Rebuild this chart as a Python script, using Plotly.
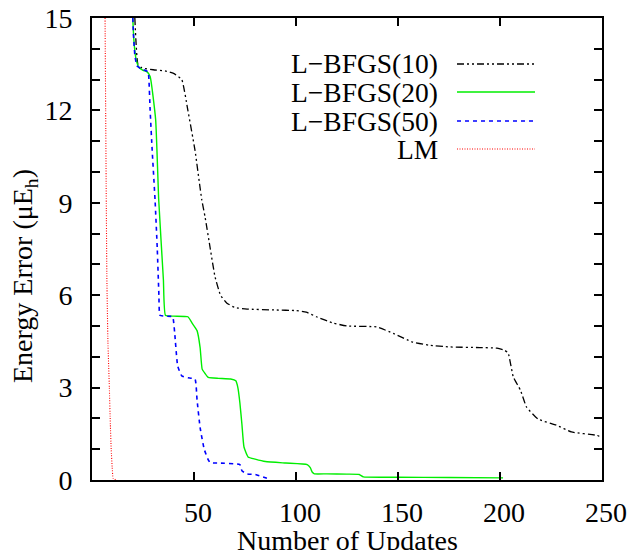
import plotly.graph_objects as go

# ---------------- data ----------------
lm_x = [6.4, 6.7, 7.0, 7.3, 7.8, 8.5, 9.0, 9.4, 9.9, 10.4, 12]
lm_y = [15, 12, 9, 6.5, 4.5, 3.0, 1.8, 1.0, 0.4, 0.05, 0]

b50_x = [20, 20.3, 21, 22, 24, 27.5, 27.9, 28.5, 29.5, 30.9, 32, 32.8, 33.3, 36, 39.5,
         40.5, 42, 44, 47, 50.5, 51.5, 53, 55, 57, 58, 62, 72.5, 73.5, 76, 80, 86]
b50_y = [15, 14.5, 13.8, 13.45, 13.35, 13.25, 13.0, 12.0, 10.7, 9.1, 7.5, 6.0, 5.35, 5.32, 5.3,
         4.8, 3.7, 3.38, 3.32, 3.28, 2.6, 1.7, 1.0, 0.65, 0.56, 0.55, 0.5, 0.3, 0.2, 0.18, 0.05]

b20_x = [20, 20.5, 21.5, 23, 25, 27, 28.5, 31.2, 32.7, 35, 36, 40, 47, 49, 51.5, 53, 54,
         55.5, 57, 62, 68, 70.5, 71.5, 72.5, 73.5, 74.5, 76.5, 80, 85, 95, 105.5, 107,
         108, 109, 115, 125, 131, 133, 150, 175, 201.5]
b20_y = [15, 14.3, 13.7, 13.4, 13.3, 13.25, 13.1, 11.7, 9.1, 6.5, 5.35, 5.32, 5.3, 5.1, 4.85,
         4.3, 3.6, 3.45, 3.33, 3.3, 3.28, 3.22, 3.0, 2.5, 1.8, 1.07, 0.75, 0.68, 0.6, 0.55,
         0.5, 0.4, 0.25, 0.2, 0.2, 0.19, 0.18, 0.1, 0.09, 0.08, 0.07]

b10_x = [21, 21.5, 22.5, 24.5, 30, 35.8, 40, 44, 47, 50.5, 53.8, 55.4, 58, 60.3, 63, 66, 70,
         76, 90, 100, 105, 110, 118, 125, 139.5, 148, 157, 165, 175.5, 190, 198.5, 202, 204,
         206.5, 210, 213, 218.6, 227.6, 235, 247.5, 250]
b10_y = [15, 14.3, 13.5, 13.38, 13.32, 13.28, 13.2, 13.0, 12.0, 10.7, 9.1, 8.55, 7.5, 6.6,
         6.0, 5.75, 5.6, 5.55, 5.52, 5.5, 5.45, 5.3, 5.1, 5.0, 4.97, 4.75, 4.48, 4.38, 4.32,
         4.3, 4.28, 4.22, 4.12, 3.35, 2.92, 2.37, 1.98, 1.78, 1.56, 1.45, 1.38]

names = ["L\u2212BFGS(10)", "L\u2212BFGS(20)", "L\u2212BFGS(50)", "LM"]
colors = ["black", "#00ee00", "#0000ff", "#ff0000"]
dashes = ["7px,3px,2px,3px,2px,3px", "solid", "4px,4px", "1px,1.5px"]
widths = [1.3, 1.4, 1.6, 1.1]

xticks = [50, 100, 150, 200, 250]
yticks = [0, 3, 6, 9, 12, 15]

xtitle = "Number of Updates"
ytitle = "Energy Error (\u03bcE<sub>h</sub>)"

FONT = "Liberation Serif, Times New Roman, serif"
FS = 28

# plot-area pixel geometry
L, R, T, B = 92, 602, 18, 480
PW, PH = R - L, B - T

def px(x):
    return (x - L) / PW

def py(y):
    return 1 - (y - T) / PH

fig = go.Figure()
series = [(b10_x, b10_y), (b20_x, b20_y), (b50_x, b50_y), (lm_x, lm_y)]
for (xs, ys), n, c, d, w in zip(series, names, colors, dashes, widths):
    fig.add_trace(go.Scatter(x=xs, y=ys, mode="lines", name=n,
                             line=dict(color=c, dash=d, width=w, shape="spline", smoothing=0.4),
                             showlegend=False))

# manual legend (text right-aligned, sample line on the right)
leg_y = [64, 92, 121, 149]
for i, n in enumerate(names):
    yp = py(leg_y[i])
    fig.add_annotation(xref="paper", yref="paper", x=px(440), y=yp,
                       text=n, showarrow=False, xanchor="right", yanchor="middle",
                       font=dict(family=FONT, size=27.5, color="black"))
    fig.add_shape(type="line", xref="paper", yref="paper",
                  x0=px(457), x1=px(535), y0=yp, y1=yp,
                  line=dict(color=colors[i], dash=dashes[i], width=widths[i]))

# axis titles
fig.add_annotation(xref="paper", yref="paper", x=px(347), y=py(540), text=xtitle,
                   showarrow=False, xanchor="center", yanchor="middle",
                   font=dict(family=FONT, size=FS, color="black"))
fig.add_annotation(xref="paper", yref="paper", x=px(24), y=py(276), text=ytitle,
                   showarrow=False, xanchor="center", yanchor="middle", textangle=-90,
                   font=dict(family=FONT, size=FS, color="black"))

axis_common = dict(showline=True, linecolor="black", linewidth=2, mirror="ticks",
                   ticks="inside", ticklen=8, tickwidth=1.5, tickcolor="black",
                   showgrid=False, zeroline=False, automargin=False,
                   tickfont=dict(family=FONT, size=FS, color="black"))

fig.update_xaxes(range=[0, 250], tickvals=xticks, ticktext=[str(v) for v in xticks],
                 ticklabelstandoff=6, ticklabelshift=4, **axis_common)
fig.update_yaxes(range=[0, 15], tickvals=yticks, ticktext=[str(v) for v in yticks],
                 minor=dict(dtick=1, ticks="inside", ticklen=8, tickwidth=1.5, tickcolor="black"),
                 ticklabelstandoff=12, **axis_common)

fig.update_layout(width=629, height=550, margin=dict(l=L, r=629 - R, t=T, b=550 - B),
                  plot_bgcolor="white", paper_bgcolor="white",
                  font=dict(family=FONT, size=FS, color="black"))

fig.write_html("out.html")
